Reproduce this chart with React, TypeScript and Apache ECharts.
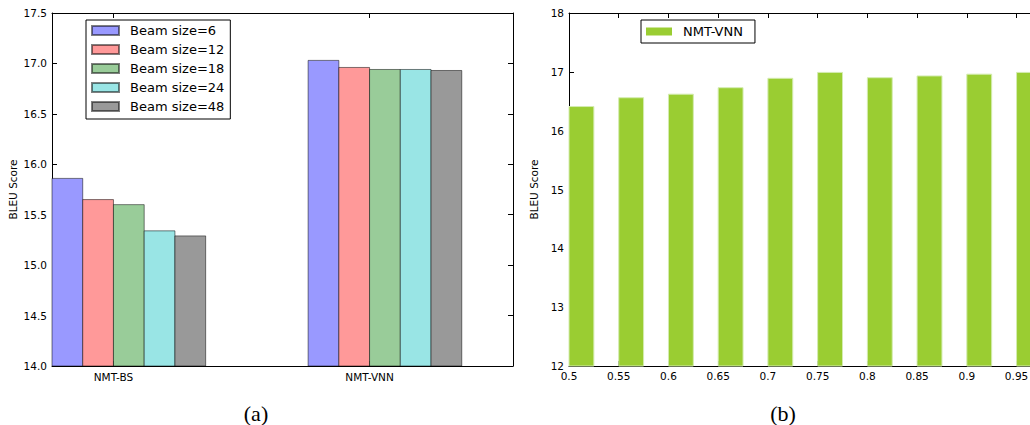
import React, { useEffect, useRef } from "react";
import * as echarts from "echarts";

// ---------- Data ----------
const groupNames = ["NMT-BS", "NMT-VNN"];
const beamNames = ["Beam size=6", "Beam size=12", "Beam size=18", "Beam size=24", "Beam size=48"];
const beamColors = ["#9999ff", "#ff9999", "#99cc99", "#99e5e5", "#999999"];
// values per beam size: [NMT-BS, NMT-VNN]
const beam6 = [15.86, 17.03];
const beam12 = [15.65, 16.96];
const beam18 = [15.6, 16.94];
const beam24 = [15.34, 16.94];
const beam48 = [15.29, 16.93];
const beamValues = [beam6, beam12, beam18, beam24, beam48];

const lambdaValues = [0.5, 0.55, 0.6, 0.65, 0.7, 0.75, 0.8, 0.85, 0.9, 0.95];
const vnnScores = [16.41, 16.56, 16.62, 16.73, 16.89, 16.99, 16.9, 16.93, 16.96, 16.99];
const lambdaTickLabels = ["0.5", "0.55", "0.6", "0.65", "0.7", "0.75", "0.8", "0.85", "0.9", "0.95"];

const BAR_W_A = 0.12; // bar width in data units, chart (a)
const BAR_W_B = 0.025; // bar width in data units, chart (b)
const Y_MIN_A = 14;
const Y_MIN_B = 12;

const FONT = "DejaVu Sans";

function rectItem(barW: number, yMin: number, fill: string, stroke: string) {
  return (params: any, api: any) => {
    const x0 = api.value(0);
    const v = api.value(1);
    const p1 = api.coord([x0, v]);
    const p2 = api.coord([x0 + barW, yMin]);
    return {
      type: "rect",
      shape: { x: p1[0], y: p1[1], width: p2[0] - p1[0], height: p2[1] - p1[1] },
      style: { fill, stroke, lineWidth: 1 },
    };
  };
}

export default function App() {
  const ref = useRef<HTMLDivElement>(null);
  useEffect(() => {
    document.body.style.margin = "0";
    const chart = echarts.init(ref.current!, undefined, { renderer: "svg" });

    const labelStyle = { color: "#000", fontFamily: FONT, fontSize: 10.5 };
    const lineStyle = { color: "#000", width: 1 };

    const seriesA = beamNames.map((name, i) => ({
      name,
      type: "custom",
      xAxisIndex: 0,
      yAxisIndex: 0,
      renderItem: rectItem(BAR_W_A, Y_MIN_A, beamColors[i], "rgba(0,0,0,0.5)"),
      itemStyle: { color: beamColors[i], borderColor: "rgba(0,0,0,0.5)", borderWidth: 1 },
      encode: { x: 0, y: 1 },
      data: groupNames.map((_, g) => [g + i * BAR_W_A, beamValues[i][g]]),
      z: 2,
    }));

    const seriesB = {
      name: "NMT-VNN",
      type: "custom",
      xAxisIndex: 2,
      yAxisIndex: 2,
      renderItem: rectItem(BAR_W_B, Y_MIN_B, "#9acd32", "#d4ecb0"),
      itemStyle: { color: "#9acd32" },
      encode: { x: 0, y: 1 },
      data: lambdaValues.map((l, k) => [l, vnnScores[k]]),
      z: 2,
    };

    const tickVals = groupNames.map((_, g) => g + 2 * BAR_W_A);

    chart.setOption({
      animation: false,
      grid: [
        { left: 52, top: 13, width: 461, height: 353, outerBoundsMode: "none", containLabel: false },
        { left: 569, top: 13, right: -86, height: 353, outerBoundsMode: "none", containLabel: false },
      ],
      xAxis: [
        {
          gridIndex: 0,
          type: "value",
          min: 0,
          max: 1.8,
          position: "bottom",
          axisLine: { show: true, onZero: false, lineStyle },
          axisTick: { show: true, inside: true, length: 5, customValues: tickVals, lineStyle },
          axisLabel: {
            ...labelStyle,
            margin: 5,
            customValues: tickVals,
            formatter: (v: number) => groupNames[Math.round(v - 2 * BAR_W_A)] ?? "",
          },
          splitLine: { show: false },
        },
        {
          gridIndex: 0,
          type: "value",
          min: 0,
          max: 1.8,
          position: "top",
          axisLine: { show: true, onZero: false, lineStyle },
          axisTick: { show: true, inside: true, length: 5, customValues: tickVals, lineStyle },
          axisLabel: { show: false },
          splitLine: { show: false },
        },
        {
          gridIndex: 1,
          type: "value",
          min: 0.5,
          max: 1.05,
          interval: 0.05,
          position: "bottom",
          axisLine: { show: true, onZero: false, lineStyle },
          axisTick: { show: true, inside: true, length: 5, lineStyle },
          axisLabel: {
            ...labelStyle,
            margin: 4,
            customValues: lambdaValues,
            formatter: (v: number) => lambdaTickLabels[Math.round((v - 0.5) / 0.05)] ?? "",
          },
          splitLine: { show: false },
        },
        {
          gridIndex: 1,
          type: "value",
          min: 0.5,
          max: 1.05,
          interval: 0.05,
          position: "top",
          axisLine: { show: true, onZero: false, lineStyle },
          axisTick: { show: true, inside: true, length: 5, lineStyle },
          axisLabel: { show: false },
          splitLine: { show: false },
        },
      ],
      yAxis: [
        {
          gridIndex: 0,
          type: "value",
          min: 14,
          max: 17.5,
          interval: 0.5,
          position: "left",
          name: "BLEU Score",
          nameLocation: "middle",
          nameRotate: 90,
          nameGap: 34,
          nameTextStyle: { color: "#000", fontFamily: FONT, fontSize: 10.5 },
          axisLine: { show: true, onZero: false, lineStyle },
          axisTick: { show: true, inside: true, length: 5, lineStyle },
          axisLabel: { ...labelStyle, margin: 5, formatter: (v: number) => v.toFixed(1) },
          splitLine: { show: false },
        },
        {
          gridIndex: 0,
          type: "value",
          min: 14,
          max: 17.5,
          interval: 0.5,
          position: "right",
          axisLine: { show: true, onZero: false, lineStyle },
          axisTick: { show: true, inside: true, length: 5, lineStyle },
          axisLabel: { show: false },
          splitLine: { show: false },
        },
        {
          gridIndex: 1,
          type: "value",
          min: 12,
          max: 18,
          interval: 1,
          position: "left",
          name: "BLEU Score",
          nameLocation: "middle",
          nameRotate: 90,
          nameGap: 23,
          nameTextStyle: { color: "#000", fontFamily: FONT, fontSize: 10.5 },
          axisLine: { show: true, onZero: false, lineStyle },
          axisTick: { show: true, inside: true, length: 5, lineStyle },
          axisLabel: { ...labelStyle, margin: 5 },
          splitLine: { show: false },
        },
        {
          gridIndex: 1,
          type: "value",
          min: 12,
          max: 18,
          interval: 1,
          position: "right",
          axisLine: { show: true, onZero: false, lineStyle },
          axisTick: { show: true, inside: true, length: 5, lineStyle },
          axisLabel: { show: false },
          splitLine: { show: false },
        },
      ],
      legend: [
        {
          data: beamNames,
          left: 86,
          top: 20,
          orient: "vertical",
          icon: "rect",
          itemWidth: 27,
          itemHeight: 9,
          itemGap: 6,
          padding: [4, 6, 6, 5],
          borderColor: "#000",
          borderWidth: 1,
          backgroundColor: "#fff",
          textStyle: { color: "#000", fontFamily: FONT, fontSize: 13, lineHeight: 13, padding: [0, 0, 0, 6] },
          z: 10,
        },
        {
          data: ["NMT-VNN"],
          left: 641,
          top: 20,
          orient: "vertical",
          icon: "rect",
          itemWidth: 26,
          itemHeight: 8,
          padding: [5, 12, 5, 5],
          borderColor: "#000",
          borderWidth: 1,
          backgroundColor: "#fff",
          textStyle: { color: "#000", fontFamily: FONT, fontSize: 13, lineHeight: 13, padding: [0, 0, 0, 6] },
          z: 10,
        },
      ],
      graphic: [
        {
          type: "text",
          x: 256,
          y: 413,
          style: {
            text: "(a)",
            fontFamily: "Liberation Serif",
            fontSize: 22,
            fill: "#000",
            align: "center",
            verticalAlign: "middle",
          },
        },
        {
          type: "text",
          x: 783,
          y: 413,
          style: {
            text: "(b)",
            fontFamily: "Liberation Serif",
            fontSize: 22,
            fill: "#000",
            align: "center",
            verticalAlign: "middle",
          },
        },
      ],
      series: [...seriesA, seriesB],
    });
    return () => chart.dispose();
  }, []);
  return (
    <div
      ref={ref}
      style={{ position: "fixed", left: 0, top: 0, width: 1030, height: 425, background: "#fff" }}
    />
  );
}
